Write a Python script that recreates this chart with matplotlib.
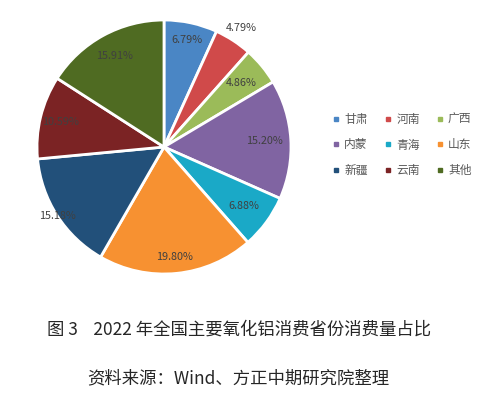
import numpy as np
import matplotlib
matplotlib.use("Agg")
import matplotlib.pyplot as plt
from matplotlib.lines import Line2D

plt.rcParams['font.family'] = ['Noto Sans CJK SC', 'DejaVu Sans']

# data
provinces = ["甘肃", "河南", "广西", "内蒙", "青海", "山东", "新疆", "云南", "其他"]
shares = [6.79, 4.79, 4.86, 15.20, 6.88, 19.80, 15.18, 10.59, 15.91]
colors = ["#4a86c5", "#d04a4a", "#9bbb59", "#8064a2", "#1aa9c7",
          "#f79131", "#22507a", "#7b2324", "#4f6b22"]
label_r = [0.86, 1.12, 0.79, 0.79, 0.78, 0.87, 1.0, 0.84, 0.82]

fig = plt.figure(figsize=(4.9, 3.98), dpi=100)
ax = fig.add_axes([37 / 490, 1 - 274 / 398, 254 / 490, 254 / 398])

wedges, _ = ax.pie(shares, colors=colors, startangle=90, counterclock=False,
                   wedgeprops=dict(edgecolor="white", linewidth=2))
for w, v, r in zip(wedges, shares, label_r):
    ang = np.deg2rad((w.theta1 + w.theta2) / 2)
    ax.text(r * np.cos(ang), r * np.sin(ang), f"{v:.2f}%", ha="center", va="center",
            fontsize=7.8, color="#404040")
ax.set_xlim(-1, 1)
ax.set_ylim(-1, 1)
ax.set_aspect("equal")

# legend: matplotlib fills columns first, so reorder to read row by row
handles = [Line2D([], [], marker="s", linestyle="", color=c, markersize=3.5) for c in colors]
order = [0, 3, 6, 1, 4, 7, 2, 5, 8]
fig.legend([handles[i] for i in order], [provinces[i] for i in order], loc="center",
           bbox_to_anchor=(402 / 490, 1 - 145 / 398), ncol=3, frameon=False, fontsize=8.5,
           handlelength=0.6, handletextpad=0.4, columnspacing=1.4, labelspacing=1.05,
           labelcolor="#595959")

fig.text(47 / 490, 1 - 330 / 398, "图 3    2022 年全国主要氧化铝消费省份消费量占比",
         ha="left", va="center", fontsize=12.5, color="#262626")
fig.text(238 / 490, 1 - 378 / 398, "资料来源：Wind、方正中期研究院整理",
         ha="center", va="center", fontsize=12.5, color="#262626")

fig.savefig("out.png", dpi=100)
